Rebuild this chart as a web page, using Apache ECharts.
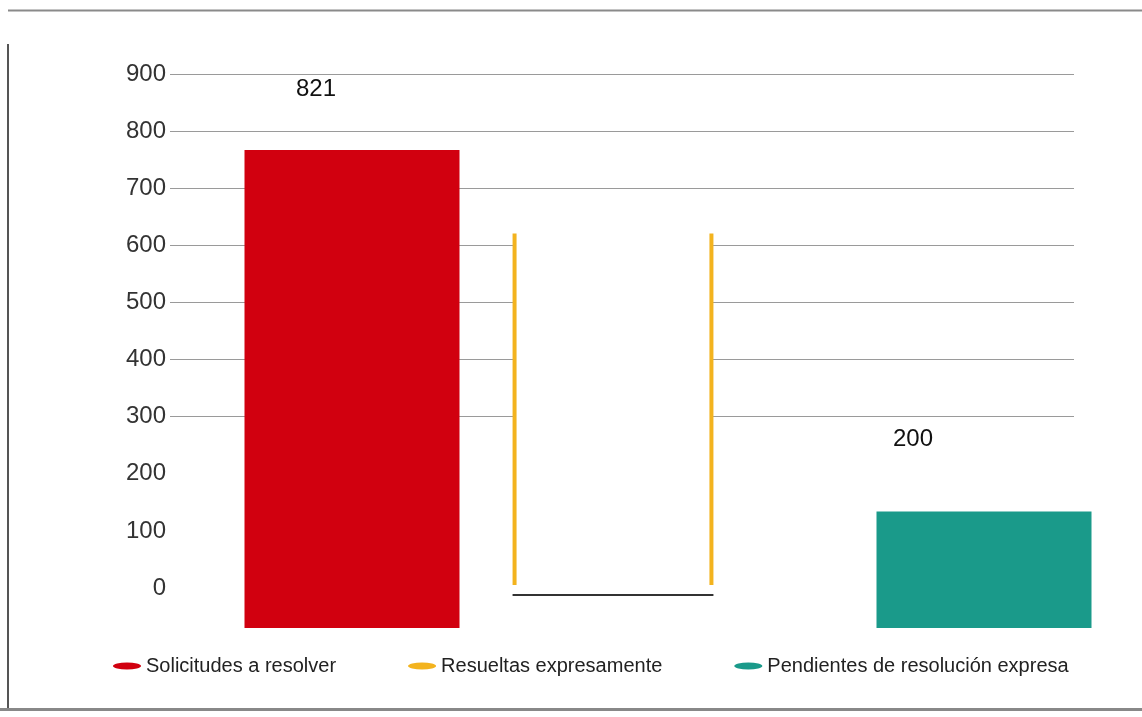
<!DOCTYPE html>
<html>
<head>
<meta charset="utf-8">
<script src="https://cdn.jsdelivr.net/npm/echarts@6/dist/echarts.min.js"></script>
<style>
  html, body { margin: 0; padding: 0; background: #fff; }
  #chart { width: 1142px; height: 717px; }
</style>
</head>
<body>
<div id="chart"></div>
<script>
// datos
const categories = ['Solicitudes a resolver', 'Resueltas expresamente', 'Pendientes de resolución expresa'];
const values = [821, 621, 200];
const colors = ['#d1000f', '#f3b31e', '#1a9a8a'];
const yMax = 900;
const yStep = 100;

(function () {
    const myChart = echarts.init(document.getElementById('chart'));

    // una serie por categoría, el resto vacío
    const only = (i) => categories.map((c, j) => (j === i ? values[i] : '-'));

    // barra hueca: sólo los lados en color y una base negra
    function renderHollowBar(params, api) {
        const top = api.coord([api.value(0), api.value(1)]);
        const base = api.coord([api.value(0), 0]);
        const w = api.size([1, 0])[0] * 0.623;
        const x0 = top[0] - w / 2;
        const x1 = top[0] + w / 2;
        const color = api.visual('color');
        return {
            type: 'group',
            children: [
                { type: 'rect', shape: { x: x0, y: top[1], width: w, height: base[1] - top[1] }, style: { fill: '#fff' } },
                { type: 'line', shape: { x1: x0, y1: top[1], x2: x0, y2: base[1] - 10 }, style: { stroke: color, lineWidth: 4 } },
                { type: 'line', shape: { x1: x1, y1: top[1], x2: x1, y2: base[1] - 10 }, style: { stroke: color, lineWidth: 4 } },
                { type: 'line', shape: { x1: x0 - 2, y1: base[1], x2: x1 + 2, y2: base[1] }, style: { stroke: '#333', lineWidth: 2 } }
            ]
        };
    }

    const hiddenCat = (gi) => ({ type: 'category', gridIndex: gi, data: categories, show: false });
    const hiddenVal = (gi) => ({ type: 'value', gridIndex: gi, min: 0, max: yMax, show: false });

    const option = {
        animation: false,
        textStyle: { fontFamily: 'Liberation Sans, Arial, sans-serif' },
        grid: [
            { left: 170, right: 68, top: 74, bottom: 129 },   // escala con etiquetas
            { left: 194, right: 0, top: 104, bottom: 89 },    // barras roja y verde
            { left: 139, right: 55, top: 71, bottom: 122 }    // barra amarilla
        ],
        xAxis: [hiddenCat(0), hiddenCat(1), hiddenCat(2)],
        yAxis: [
            {
                type: 'value',
                gridIndex: 0,
                min: 0,
                max: yMax,
                interval: yStep,
                axisLine: { show: false },
                axisTick: { show: false },
                axisLabel: {
                    color: '#333',
                    fontSize: 24,
                    margin: 4
                },
                splitLine: {
                    lineStyle: {
                        color: ['rgba(0,0,0,0)', 'rgba(0,0,0,0)', 'rgba(0,0,0,0)',
                            '#9a9a9a', '#9a9a9a', '#9a9a9a', '#9a9a9a', '#9a9a9a', '#9a9a9a', '#9a9a9a'],
                        width: 1
                    }
                }
            },
            hiddenVal(1),
            hiddenVal(2)
        ],
        legend: {
            data: categories,
            left: 108,
            top: 651,
            itemWidth: 28,
            itemHeight: 7,
            itemGap: 72,
            icon: 'path://M0,3.5 A14,3.5 0 1,1 28,3.5 A14,3.5 0 1,1 0,3.5 Z',
            textStyle: { color: '#222', fontSize: 20 }
        },
        series: [
            {
                name: categories[0],
                type: 'bar',
                xAxisIndex: 1,
                yAxisIndex: 1,
                barWidth: 215,
                barGap: '-100%',
                itemStyle: { color: colors[0] },
                label: {
                    show: true,
                    position: 'top',
                    color: '#111',
                    fontSize: 24,
                    offset: [-36, -44]
                },
                data: only(0)
            },
            {
                name: categories[1],
                type: 'custom',
                xAxisIndex: 2,
                yAxisIndex: 2,
                itemStyle: { color: colors[1] },
                renderItem: renderHollowBar,
                encode: { x: 0, y: 1 },
                data: [[1, values[1]]]
            },
            {
                name: categories[2],
                type: 'bar',
                xAxisIndex: 1,
                yAxisIndex: 1,
                barWidth: 215,
                barGap: '-100%',
                itemStyle: { color: colors[2] },
                label: {
                    show: true,
                    position: 'top',
                    color: '#111',
                    fontSize: 24,
                    offset: [-71, -55]
                },
                data: only(2)
            }
        ],
        graphic: [
            { type: 'line', shape: { x1: 8, y1: 10.5, x2: 1142, y2: 10.5 }, style: { stroke: '#8a8a8a', lineWidth: 2 } },
            { type: 'line', shape: { x1: 8, y1: 44, x2: 8, y2: 709 }, style: { stroke: '#555', lineWidth: 2 } },
            { type: 'line', shape: { x1: 0, y1: 709.5, x2: 1142, y2: 709.5 }, style: { stroke: '#888', lineWidth: 3 } }
        ]
    };
    myChart.setOption(option);
    window.addEventListener('resize', () => {
        myChart.resize();
    })
})();
</script>
</body>
</html>
